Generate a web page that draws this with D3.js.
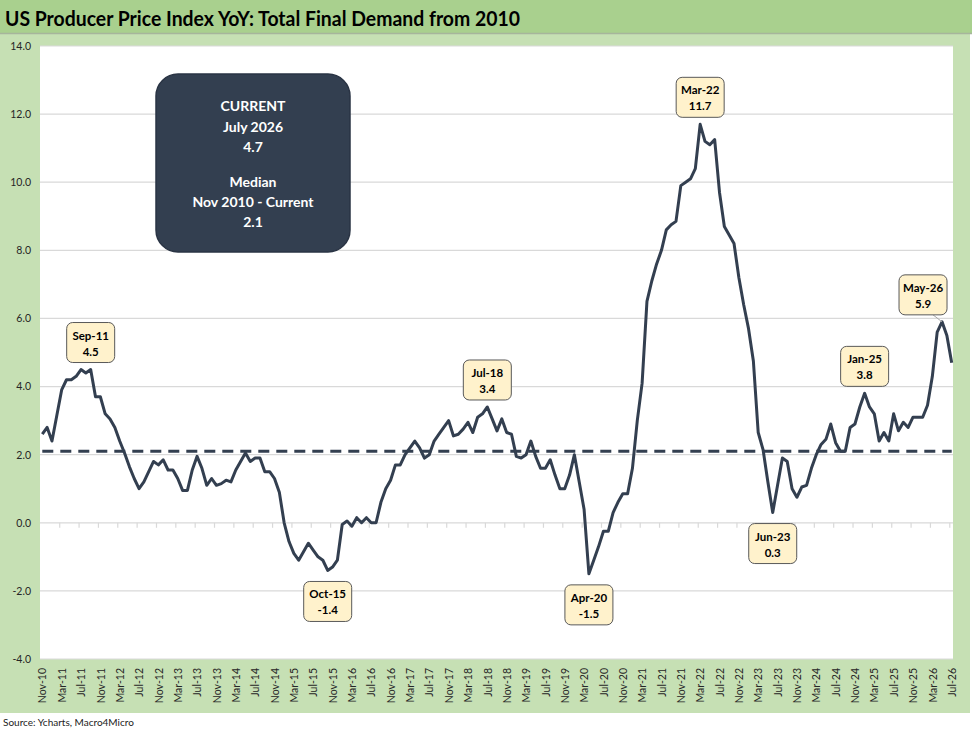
<!DOCTYPE html>
<html>
<head>
<meta charset="utf-8">
<script src="https://cdn.jsdelivr.net/npm/d3@7"></script>
<style>
  body { margin: 0; background: #fff; }
  text { font-family: Lato, "Liberation Sans", sans-serif; }
</style>
</head>
<body>
<div id="chart"></div>
<script>
// PPI final demand YoY %, monthly Nov-10 .. Jul-26
var ppi2010 = [2.6, 2.8];
var ppi2011 = [2.4, 3.15, 3.9, 4.2, 4.2, 4.3, 4.5, 4.4, 4.5, 3.7, 3.7, 3.2];
var ppi2012 = [3.05, 2.8, 2.4, 2.05, 1.65, 1.3, 1.0, 1.2, 1.5, 1.8, 1.7, 1.85];
var ppi2013 = [1.55, 1.55, 1.3, 0.95, 0.95, 1.55, 1.95, 1.6, 1.1, 1.3, 1.1, 1.15];
var ppi2014 = [1.25, 1.2, 1.55, 1.8, 2.05, 1.8, 1.9, 1.9, 1.5, 1.5, 1.3, 0.9];
var ppi2015 = [0.0, -0.55, -0.9, -1.1, -0.85, -0.6, -0.8, -1.0, -1.1, -1.4, -1.3, -1.1];
var ppi2016 = [-0.05, 0.05, -0.1, 0.15, 0.0, 0.15, 0.0, 0.0, 0.6, 1.0, 1.25, 1.7];
var ppi2017 = [1.7, 2.0, 2.2, 2.4, 2.2, 1.9, 2.0, 2.4, 2.6, 2.8, 3.0, 2.55];
var ppi2018 = [2.6, 2.75, 2.95, 2.65, 3.1, 3.2, 3.4, 3.05, 2.7, 3.05, 2.65, 2.6];
var ppi2019 = [1.95, 1.9, 2.0, 2.4, 1.95, 1.6, 1.6, 1.85, 1.4, 1.0, 1.0, 1.4];
var ppi2020 = [2.0, 1.2, 0.4, -1.5, -1.1, -0.7, -0.25, -0.25, 0.3, 0.6, 0.85, 0.85];
var ppi2021 = [1.6, 3.0, 4.1, 6.5, 7.1, 7.6, 8.0, 8.6, 8.75, 8.85, 9.9, 10.0];
var ppi2022 = [10.1, 10.4, 11.7, 11.2, 11.1, 11.25, 9.7, 8.7, 8.45, 8.2, 7.2, 6.4];
var ppi2023 = [5.7, 4.75, 2.65, 2.15, 1.2, 0.3, 1.1, 1.9, 1.8, 1.0, 0.75, 1.05];
var ppi2024 = [1.1, 1.6, 2.0, 2.3, 2.45, 2.9, 2.35, 2.1, 2.1, 2.8, 2.9, 3.4];
var ppi2025 = [3.8, 3.4, 3.2, 2.4, 2.65, 2.4, 3.2, 2.7, 2.95, 2.8, 3.1, 3.1];
var ppi2026 = [3.1, 3.45, 4.3, 5.6, 5.9, 5.5, 4.7];

var medianValue = 2.1;
var yTicks = [-4, -2, 0, 2, 4, 6, 8, 10, 12, 14];

// labelled highs / lows
var noteMonths = ["Sep-11", "Oct-15", "Jul-18", "Apr-20", "Mar-22", "Jun-23", "Jan-25", "May-26"];
var noteValues = [4.5, -1.4, 3.4, -1.5, 11.7, 0.3, 3.8, 5.9];

var infoLines = ["CURRENT", "July 2026", "4.7", "", "Median", "Nov 2010 - Current", "2.1"];

var values = [].concat(ppi2010, ppi2011, ppi2012, ppi2013, ppi2014, ppi2015, ppi2016,
  ppi2017, ppi2018, ppi2019, ppi2020, ppi2021, ppi2022, ppi2023, ppi2024, ppi2025, ppi2026);

var fmtMonth = d3.timeFormat("%b-%y");
var months = d3.timeMonth.range(new Date(2010, 10, 1), new Date(2026, 7, 1)).map(fmtMonth);

var dataset = months.map((m, i) => ({ month: m, value: values[i] }));

// plain hyphen for negatives, like the original
var fmt1 = d => d.toFixed(1);

var svgWidth = 972;
var svgHeight = 733;
var plotLeft = 40, plotRight = 953, plotTop = 46, plotBottom = 659;
var lineColor = "#333f50";

var svg = d3.select("#chart")
  .append("svg")
  .attr("width", svgWidth)
  .attr("height", svgHeight);

// frame
svg.append("rect").attr("x", 0).attr("y", 34).attr("width", 970).attr("height", 679)
  .attr("fill", "#c6e0b4");
svg.append("rect").attr("x", 0).attr("y", 0).attr("width", 972).attr("height", 33)
  .attr("fill", "#a9d08e");
svg.append("line").attr("x1", 0).attr("x2", 972).attr("y1", 33.5).attr("y2", 33.5)
  .attr("stroke", "#a6b59c").attr("stroke-width", 1.5);
svg.append("rect").attr("x", plotLeft).attr("y", plotTop)
  .attr("width", plotRight - plotLeft).attr("height", plotBottom - plotTop)
  .attr("fill", "#fff");

svg.append("text")
  .attr("x", 5).attr("y", 26)
  .attr("font-size", 20.5).attr("font-weight", "bold").attr("fill", "#000")
  .attr("textLength", 515).attr("lengthAdjust", "spacingAndGlyphs")
  .text("US Producer Price Index YoY: Total Final Demand from 2010");

svg.append("text")
  .attr("x", 3).attr("y", 726)
  .attr("font-size", 10).attr("fill", "#222")
  .text("Source: Ycharts, Macro4Micro");

// scales
var x = d3.scalePoint().domain(months).range([42.3, 951.7]);
var xIdx = d3.scaleLinear().domain([0, months.length - 1]).range([42.3, 951.7]);
var y = d3.scaleLinear().domain([-4, 14]).range([plotBottom, plotTop]);

// gridlines
svg.append("g")
  .selectAll("line")
  .data(yTicks)
  .enter()
  .append("line")
  .attr("x1", plotLeft).attr("x2", plotRight)
  .attr("y1", d => y(d)).attr("y2", d => y(d))
  .attr("stroke", "#d9d9d9").attr("stroke-width", 1.2);

// y axis labels
var leftAxis = d3.axisLeft(y).tickValues(yTicks).tickFormat(fmt1)
  .tickSize(0).tickPadding(9);
var yAxis = svg.append("g")
  .attr("transform", `translate(${plotLeft}, 0)`)
  .call(leftAxis);
yAxis.select(".domain").remove();
yAxis.selectAll("text").attr("font-size", 10.5).attr("fill", "#262626")
  .style("font-family", "Lato, sans-serif");

// tick marks on the zero line
var zeroAxis = d3.axisBottom(xIdx).tickValues(d3.range(3.5, months.length, 4))
  .tickSize(5).tickFormat("");
var zAxis = svg.append("g")
  .attr("transform", `translate(0, ${y(0)})`)
  .call(zeroAxis);
zAxis.select(".domain").remove();
zAxis.selectAll("line").attr("stroke", "#d9d9d9").attr("stroke-width", 1.2);

// x axis labels
var bottomAxis = d3.axisBottom(x).tickValues(months.filter((d, i) => i % 4 === 0))
  .tickSize(0);
var xAxis = svg.append("g")
  .attr("transform", `translate(0, ${plotBottom})`)
  .call(bottomAxis);
xAxis.select(".domain").remove();
xAxis.selectAll("text")
  .attr("transform", "rotate(-90)")
  .attr("x", -9).attr("y", 0).attr("dy", "0.35em")
  .attr("text-anchor", "end")
  .attr("font-size", 10.5).attr("fill", "#262626")
  .style("font-family", "Lato, sans-serif");

// median line
svg.append("line")
  .attr("x1", x(months[0])).attr("x2", x(months[months.length - 1]))
  .attr("y1", y(medianValue)).attr("y2", y(medianValue))
  .attr("stroke", lineColor).attr("stroke-width", 3)
  .attr("stroke-dasharray", "11,7");

// the series
var line = d3.line().x(d => x(d.month)).y(d => y(d.value));
svg.append("path")
  .datum(dataset)
  .attr("d", line)
  .attr("fill", "none")
  .attr("stroke", lineColor)
  .attr("stroke-width", 3)
  .attr("stroke-linejoin", "round");

// callout boxes
var boxW = 48, boxH = 40;
var notes = noteMonths.map((m, i) => ({ month: m, value: noteValues[i] }));
var noteGroup = svg.append("g");
notes.forEach(function (d) {
  var px = x(d.month), py = y(d.value);
  var below = d.value < 1;
  var shift = d.month === "May-26" ? -19 : 0;
  var bx = px - boxW / 2 + shift;
  var by = below ? py + 11 : py - 7 - boxH;
  if (d.month === "May-26") {
    noteGroup.append("line")
      .attr("x1", bx + boxW - 14).attr("y1", by + boxH)
      .attr("x2", px).attr("y2", py)
      .attr("stroke", "#a6a6a6").attr("stroke-width", 1);
  }
  noteGroup.append("rect")
    .attr("x", bx).attr("y", by).attr("width", boxW).attr("height", boxH)
    .attr("rx", 6)
    .attr("fill", "#fff2cc").attr("stroke", "#595959").attr("stroke-width", 1);
  noteGroup.append("text")
    .attr("x", bx + boxW / 2).attr("y", by + 17)
    .attr("text-anchor", "middle").attr("font-size", 11.5).attr("font-weight", "bold")
    .attr("fill", "#000").text(d.month);
  noteGroup.append("text")
    .attr("x", bx + boxW / 2).attr("y", by + 33)
    .attr("text-anchor", "middle").attr("font-size", 11.5).attr("font-weight", "bold")
    .attr("fill", "#000").text(fmt1(d.value));
});

// info box
svg.append("rect")
  .attr("x", 156).attr("y", 74).attr("width", 194).attr("height", 178)
  .attr("rx", 22)
  .attr("fill", lineColor).attr("stroke", "#2a3444").attr("stroke-width", 1.5);
var infoY = [106, 127, 147, 0, 182, 202, 222];
infoLines.forEach(function (t, i) {
  if (t === "") return;
  svg.append("text")
    .attr("x", 253).attr("y", infoY[i] + 5)
    .attr("text-anchor", "middle")
    .attr("font-size", 14).attr("font-weight", "bold").attr("fill", "#fff")
    .text(t);
});
</script>
</body>
</html>
